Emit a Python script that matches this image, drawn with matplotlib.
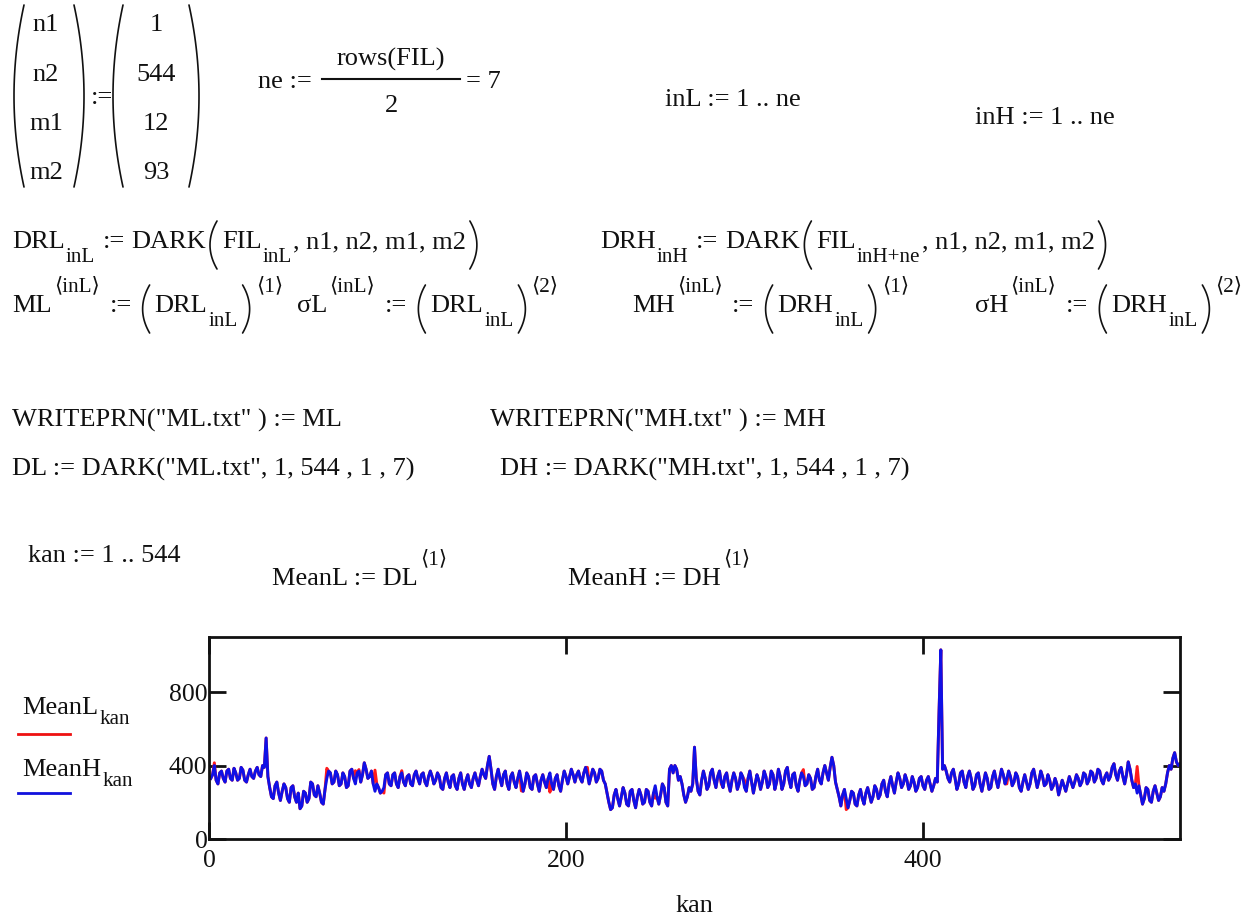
import numpy as np
import matplotlib.pyplot as plt

plt.rcParams['font.family'] = ['Liberation Serif', 'DejaVu Serif']

# ---- data (kan = 1..544) ----
mean_h = [
    # 1-31
    330, 350, 400, 320, 300, 360, 370, 330, 310, 370, 380, 330, 320, 385, 360, 320,
    330, 390, 375, 320, 310, 350, 380, 340, 330, 370, 390, 350, 340, 400, 390,
    # 32-33
    550, 340,
    # 34-64
    280, 230, 220, 290, 310, 250, 210, 260, 300, 280, 220, 200, 280, 290, 230, 200,
    250, 165, 180, 260, 250, 200, 220, 310, 300, 240, 230, 290, 250, 200, 190,
    # 65-98
    270, 330, 370, 360, 300, 310, 370, 350, 290, 300, 360, 340, 280, 290, 370, 380,
    330, 300, 360, 370, 310, 350, 415, 380, 330, 340, 370, 300, 260, 300, 280, 250,
    260, 280,
    # 99-157
    350, 360, 300, 290, 350, 360, 300, 280, 340, 360, 310, 290, 340, 350, 300, 290,
    350, 370, 330, 300, 350, 360, 310, 290, 340, 370, 340, 300, 320, 360, 340, 280,
    270, 330, 360, 310, 280, 340, 350, 290, 270, 330, 360, 300, 270, 320, 350, 300,
    280, 330, 360, 320, 290, 340, 380, 350, 330, 400, 450,
    # 158-223
    380, 300, 270, 340, 380, 330, 290, 350, 370, 300, 270, 340, 360, 310, 280, 330,
    370, 320, 260, 300, 360, 340, 280, 270, 340, 350, 300, 260, 320, 350, 310, 280,
    330, 360, 300, 270, 330, 350, 290, 260, 320, 370, 340, 300, 340, 380, 350, 310,
    350, 370, 330, 310, 360, 390, 350, 300, 340, 380, 360, 310, 330, 380, 370, 320,
    300, 250,
    # 224-255
    200, 160, 170, 240, 270, 220, 180, 230, 280, 250, 190, 180, 260, 270, 210, 170,
    230, 270, 240, 190, 200, 270, 260, 200, 180, 250, 290, 230, 190, 240, 300, 280,
    # 256-273
    200, 180, 380, 400, 360, 400, 380, 320, 340, 300, 240, 200, 230, 280, 260, 300,
    500, 330,
    # 274-350
    260, 240, 320, 370, 330, 270, 290, 360, 380, 320, 280, 340, 370, 310, 280, 340,
    360, 300, 260, 320, 360, 330, 270, 300, 360, 340, 280, 260, 330, 370, 310, 250,
    300, 350, 320, 270, 310, 370, 340, 280, 300, 370, 350, 270, 310, 380, 340, 270,
    300, 370, 390, 320, 280, 350, 360, 290, 260, 320, 360, 340, 290, 300, 350, 330,
    270, 280, 340, 380, 320, 300, 360, 400, 360, 320, 390, 445, 400,
    # 351-380
    310, 270, 230, 180, 240, 270, 220, 170, 210, 260, 250, 190, 180, 240, 270, 220,
    190, 250, 280, 240, 200, 230, 290, 270, 220, 240, 300, 320, 260, 230,
    # 381-413
    300, 340, 290, 250, 310, 360, 330, 280, 300, 350, 320, 270, 290, 340, 310, 260,
    280, 330, 340, 290, 270, 320, 340, 300, 260, 290, 330, 310, 690, 1030, 380, 400,
    370,
    # 414-437
    330, 310, 360, 380, 330, 270, 300, 360, 370, 310, 280, 340, 370, 330, 270, 290,
    350, 360, 300, 260, 310, 360, 330, 270,
    # 438-518
    280, 340, 370, 320, 280, 330, 380, 350, 300, 330, 370, 340, 290, 310, 360, 340,
    280, 260, 310, 350, 310, 270, 300, 360, 380, 330, 280, 320, 370, 340, 290, 300,
    350, 320, 270, 290, 330, 300, 240, 280, 320, 290, 260, 300, 340, 310, 280, 310,
    350, 330, 290, 310, 360, 350, 300, 320, 370, 360, 310, 330, 380, 370, 320, 300,
    340, 360, 320, 340, 390, 410, 350, 320, 370, 390, 340, 300, 350, 420, 380, 320,
    280,
    # 519-535
    300, 250, 290, 240, 190, 220, 280, 270, 210, 200, 260, 290, 250, 210, 230, 280,
    260,
    # 536-544
    300, 360, 400, 380, 440, 470, 420, 400, 410,
]

# channels where MeanL (red) shows from behind MeanH
diff_kan = [3, 66, 82, 84, 93, 98, 108, 175, 191, 212, 250, 287, 300, 333, 357, 447, 520]
diff_val = [415, 385, 372, 378, 375, 250, 372, 262, 255, 390, 222, 300, 320, 378, 160, 300, 395]

kan = np.arange(1, len(mean_h) + 1)
mean_l = np.array(mean_h, dtype=float)
mean_l[np.array(diff_kan) - 1] = diff_val

W, H = 1254, 919
FS = 19
INK = '#111111'

fig = plt.figure(figsize=(W / 100, H / 100), dpi=100)
ov = fig.add_axes([0, 0, 1, 1])
ov.set_xlim(0, W)
ov.set_ylim(H, 0)
ov.axis('off')
rend = fig.canvas.get_renderer()


def put(x, y, s, size=FS, ha='left'):
    return ov.text(x, y, s, fontsize=size, va='baseline', ha=ha, color=INK)


def wid(t):
    return t.get_window_extent(renderer=rend).width


def paren(xm, top, bot, left=True, w=7, lw=1.2):
    # tall worksheet-style bracket, xm is the outermost x
    yy = np.linspace(top, bot, 40)
    u = (yy - (top + bot) / 2) / ((bot - top) / 2)
    xx = xm + w * u ** 2 if left else xm - w * u ** 2
    ov.plot(xx, yy, color=INK, lw=lw, solid_capstyle='round')


def seq(x, y, items, sub_dy=14):
    # lay out a Mathcad-like expression piece by piece
    for kind, s in items:
        if kind == 't':
            x += wid(put(x, y, s))
        elif kind == 'sub':
            x += wid(put(x + 1, y + sub_dy, s, size=FS * 0.8)) + 2
        elif kind == 'sup':
            x += wid(put(x + 2, y - 21, s, size=FS * 0.8)) + 3
        elif kind == 'gap':
            x += s
        elif kind == '(':
            paren(x + 4, y - 27, y + 21, True)
            x += 16
        elif kind == ')':
            paren(x + 11, y - 27, y + 21, False)
            x += 15
    return x


# --- matrix assignment ---
names = ['n1', 'n2', 'm1', 'm2']
vals = ['1', '544', '12', '93']
bases = [31, 81, 130, 179]
for nm, v, b in zip(names, vals, bases):
    put(46, b, nm, ha='center')
    put(156, b, v, ha='center')
paren(14, 5, 187, True, w=10)
paren(84, 5, 187, False, w=10)
put(91, 104, ':=')
paren(113, 5, 187, True, w=10)
paren(199, 5, 187, False, w=10)

put(258, 88, 'ne :=')
put(391, 66, 'rows(FIL)', ha='center')
ov.plot([322, 460], [79, 79], color=INK, lw=1.5)
put(391, 112, '2', ha='center')
put(466, 88, '= 7')

put(665, 106, 'inL := 1 .. ne')
put(975, 124, 'inH := 1 .. ne')

# --- DARK calls ---
args = ', n1, n2, m1, m2'
seq(12, 248, [('t', 'DRL'), ('sub', 'inL'), ('gap', 7), ('t', ':='), ('gap', 6),
              ('t', 'DARK'), ('(', None), ('t', 'FIL'), ('sub', 'inL'), ('t', args),
              (')', None)])
seq(600, 248, [('t', 'DRH'), ('sub', 'inH'), ('gap', 7), ('t', ':='), ('gap', 7),
               ('t', 'DARK'), ('(', None), ('t', 'FIL'), ('sub', 'inH+ne'), ('t', args),
               (')', None)])

row3 = [(12, 'ML', 'DRL', '1'), (297, 'σL', 'DRL', '2'),
        (632, 'MH', 'DRH', '1'), (975, 'σH', 'DRH', '2')]
for x0, lhs, inner, col in row3:
    seq(x0, 312, [('t', lhs), ('sup', '⟨inL⟩'), ('gap', 9), ('t', ':='), ('gap', 7),
                  ('(', None), ('t', inner), ('sub', 'inL'), (')', None),
                  ('sup', '⟨' + col + '⟩')])

put(12, 427, 'WRITEPRN("ML.txt" ) := ML')
put(490, 427, 'WRITEPRN("MH.txt" ) := MH')
put(12, 476, 'DL := DARK("ML.txt", 1, 544 , 1 , 7)')
put(500, 476, 'DH := DARK("MH.txt", 1, 544 , 1 , 7)')

put(28, 562, 'kan := 1 .. 544')
seq(272, 585, [('t', 'MeanL := DL'), ('sup', '⟨1⟩')])
seq(568, 585, [('t', 'MeanH := DH'), ('sup', '⟨1⟩')])

# --- legend ---
seq(22, 714, [('t', 'MeanL'), ('sub', 'kan')], sub_dy=10)
ov.plot([18, 70], [734, 734], color='#ee1111', lw=2)
seq(22, 776, [('t', 'MeanH'), ('sub', 'kan')], sub_dy=10)
ov.plot([18, 70], [793, 793], color='#1111dd', lw=2)
put(694, 912, 'kan', ha='center')

# --- plot ---
ax = fig.add_axes([209 / W, (H - 839) / H, 971 / W, 202 / H])
ax.plot(kan, mean_l, color='#ff1a1a', lw=2.1)
ax.plot(kan, mean_h, color='#1010e6', lw=2.1)
ax.set_xlim(0, 544)
ax.set_ylim(0, 1100)
ax.set_xticks([0, 200, 400])
ax.set_yticks([0, 400, 800])
ax.tick_params(direction='in', length=12, width=2, top=True, right=True,
               labelsize=FS - 0.5, colors=INK)
ax.tick_params(axis='y', pad=1)
ax.tick_params(axis='x', pad=8)
for s in ax.spines.values():
    s.set_linewidth(2)
    s.set_color(INK)

fig.savefig('out.png', dpi=100)
